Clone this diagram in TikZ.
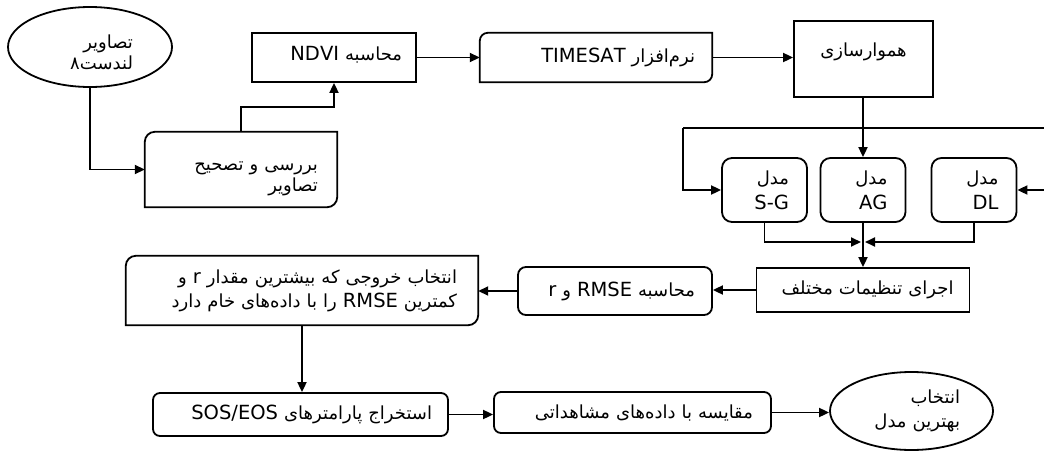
\documentclass[tikz,border=0pt]{standalone}
\usepackage{fontspec}
\usetikzlibrary{arrows.meta,shapes.geometric}
\TeXXeTstate=1
\newfontfamily\fa[Script=Arabic]{DejaVu Sans}
\newcommand\RL[1]{\beginR #1\endR}
\newcommand\LR[1]{\beginL{\fontsize{19.5}{22}\selectfont #1}\endL{}}
\newcommand\diagbox[2]{\draw[ln] ([xshift=#2]#1.north west) -- (#1.north east) -- ([yshift=#2]#1.south east) .. controls ([yshift=0.45*#2]#1.south east) and ([xshift=-0.45*#2]#1.south east) .. ([xshift=-#2]#1.south east) -- (#1.south west) -- ([yshift=-#2]#1.north west) .. controls ([yshift=-0.45*#2]#1.north west) and ([xshift=0.45*#2]#1.north west) .. ([xshift=#2]#1.north west) -- cycle;}
\begin{document}
\begin{tikzpicture}[x=1pt,y=-1pt,
 every node/.style={font=\fa\fontsize{18}{22}\selectfont, inner ysep=0pt},
 ln/.style={line width=1.8pt},
 arr/.style={line width=1.8pt, -{Triangle[length=10pt,width=9pt]}},
 sq/.style={draw, line width=1.8pt, align=right},
 rd/.style={draw, line width=1.8pt, rounded corners=#1, align=right},
 rd/.default=10pt,
 nb/.style={align=right},
 ov/.style={draw, ellipse, line width=1.8pt, inner sep=0pt, align=right}]
\useasboundingbox (0,0) rectangle (1044,450);
\clip (0,0) rectangle (1044,450);
% nodes
\node[ov, minimum width=164, minimum height=80, text width=86pt, font=\fa\fontsize{18}{21}\selectfont, text depth=10pt] (land) at (90,47) {\RL{تصاویر}\\\RL{لندست۸}};
\node[nb, minimum width=192, minimum height=75, inner xsep=19pt, text width=154pt, font=\fa\fontsize{18}{21}\selectfont, text depth=6pt] (check) at (241,169.5) {\RL{بررسی و تصحیح}\\\RL{تصاویر}};
\diagbox{check}{10pt}
\node[sq, minimum width=164, minimum height=49, inner xsep=14pt, text width=136pt, text height=13pt, text depth=8pt] (ndvi) at (334,57.5) {\RL{محاسبه \LR{NDVI}}};
\node[nb, minimum width=232, minimum height=49, inner xsep=17pt, text width=198pt] (timesat) at (596,57.5) {\RL{نرم‌افزار \LR{TIMESAT}}};
\diagbox{timesat}{8pt}
\node[sq, minimum width=139, minimum height=76, align=center, text height=13pt, text depth=18pt] (smooth) at (863.5,59) {\RL{هموارسازی}};
\node[rd, minimum width=85, minimum height=64, inner xsep=18pt, text width=49pt, font=\fa\fontsize{18}{25}\selectfont] (sg) at (764.5,190) {\RL{مدل}\\\LR{S-G}};
\node[rd, minimum width=85, minimum height=64, inner xsep=18pt, text width=49pt, font=\fa\fontsize{18}{25}\selectfont] (ag) at (863,190) {\RL{مدل}\\\LR{AG}};
\node[rd, minimum width=85, minimum height=64, inner xsep=18pt, text width=49pt, font=\fa\fontsize{18}{25}\selectfont] (dl) at (974,190) {\RL{مدل}\\\LR{DL}};
\node[sq, minimum width=213, minimum height=44, inner xsep=16pt, text width=181pt] (run) at (863,290) {\RL{اجرای تنظیمات مختلف}};
\node[rd=8pt, minimum width=194, minimum height=48, inner xsep=17pt, text width=160pt] (rmse) at (615,291) {\RL{محاسبه \LR{RMSE} و \LR{r}}};
\node[nb, minimum width=352, minimum height=69, inner xsep=21pt, text width=310pt, font=\fa\fontsize{18}{24}\selectfont] (sel) at (302,290.5) {\RL{انتخاب خروجی که بیشترین مقدار \LR{r} و}\\\RL{کمترین \LR{RMSE} را با داده‌های خام دارد}};
\diagbox{sel}{10pt}
\node[rd=7pt, minimum width=295, minimum height=43, inner xsep=16pt, text width=263pt] (sos) at (300.5,414.5) {\RL{استخراج پارامترهای \LR{SOS/EOS}}};
\node[rd=7pt, minimum width=277, minimum height=41, inner xsep=18pt, text width=241pt] (cmp) at (632.5,412.5) {\RL{مقایسه با داده‌های مشاهداتی}};
\node[ov, minimum width=163, minimum height=78, text width=97pt, font=\fa\fontsize{18}{24}\selectfont] (best) at (911.5,411) {\RL{انتخاب}\\\RL{بهترین مدل}};
% coordinates
\coordinate (split) at (863,128);
\coordinate (bl) at (683,128);
\coordinate (br) at (1070,128);
\coordinate (ml) at (861,242);
\coordinate (mr) at (865,242);
% connectors
\draw[arr] (land.south) |- (check.west);
\draw[arr] (check.north) -- ++(0,-25) -| (ndvi.south);
\draw[arr] (ndvi.east) -- (timesat.west);
\draw[arr] (timesat.east) -- (timesat.east -| smooth.west);
\draw[arr] (smooth.south -| ag.north) -- (ag.north);
\draw[ln] (bl) -- (br);
\draw[arr] (bl) |- (sg.west);
\draw[arr] (br) |- (dl.east);
\draw[arr] (sg.south) |- (ml);
\draw[arr] (dl.south) |- (mr);
\draw[arr] (ag.south) -- (run.north);
\draw[arr] (run.west) -- (run.west -| rmse.east);
\draw[arr] (rmse.west) -- (rmse.west -| sel.east);
\draw[arr] (sel.south) -- (sel.south |- sos.north);
\draw[arr] (sos.east) -- (sos.east -| cmp.west);
\draw[arr] (cmp.east) -- (cmp.east -| best.west);
\end{tikzpicture}
\end{document}
